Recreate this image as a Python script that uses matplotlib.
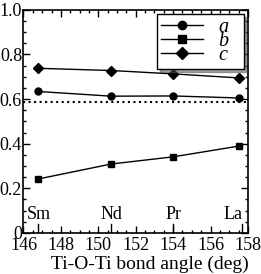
import matplotlib as mpl
mpl.use("Agg")
import matplotlib.pyplot as plt
from matplotlib.ticker import MultipleLocator

# bond angle for each rare-earth compound
angle = [146.8, 150.7, 154.0, 157.5]
elements = ["Sm", "Nd", "Pr", "La"]
elem_tick = [146.8, 150.7, 154.0, 157.7]

a_vals = [0.634, 0.613, 0.614, 0.605]
b_vals = [0.242, 0.309, 0.341, 0.389]
c_vals = [0.738, 0.728, 0.713, 0.695]
ref_level = 0.586

plt.rcParams['font.family'] = ['Liberation Serif', 'DejaVu Serif']

fig = plt.figure(figsize=(2.61, 2.74), dpi=100)
ax = fig.add_axes([0.09, 0.15, 0.86, 0.814])

ax.plot(angle, a_vals, '-o', color='k', ms=5, lw=1, label='a  ')
ax.plot(angle, b_vals, '-s', color='k', ms=5, lw=1, label='b  ')
ax.plot(angle, c_vals, '-D', color='k', ms=5, lw=1, label='c  ')
ax.axhline(ref_level, color='k', ls=':', lw=1.5)

ax.set_xlim(146, 158)
ax.set_ylim(0, 1.0)
ax.xaxis.set_major_locator(MultipleLocator(2))
ax.xaxis.set_minor_locator(MultipleLocator(0.5))
ax.yaxis.set_minor_locator(MultipleLocator(0.05))
ax.set_yticks([0, 0.2, 0.4, 0.6, 0.8, 1.0])
ax.set_yticklabels(['0', '0.2', '0.4', '0.6', '0.8', '1.0'])
ax.tick_params(which='both', direction='in', top=True, right=True,
               labelsize=13, width=1)
ax.tick_params(axis='y', pad=1)
ax.tick_params(axis='x', pad=3)
ax.tick_params(which='major', length=5)
ax.tick_params(which='minor', length=2.5)
for s in ax.spines.values():
    s.set_linewidth(1.2)

# element markers along the bottom
for x, el in zip(elem_tick, elements):
    ax.plot([x, x], [0, 0.04], color='k', lw=1)
    ha = 'right' if el == 'La' else 'center'
    ax.text(x, 0.045, el, ha=ha, va='bottom', fontsize=13)

ax.set_xlabel('Ti-O-Ti bond angle (deg)', fontsize=14, labelpad=1, x=0.565)

leg = ax.legend(loc='upper right', prop={'style': 'italic', 'size': 14.5},
                frameon=True, fancybox=False, shadow=True,
                handlelength=2.1, labelspacing=-0.27, markerscale=1.2,
                borderpad=0.2, handletextpad=0.8, borderaxespad=0.22)
leg.get_frame().set_edgecolor('k')
leg.get_frame().set_linewidth(1.0)
leg.get_frame().set_alpha(1)

fig.savefig('out.png', dpi=100)
